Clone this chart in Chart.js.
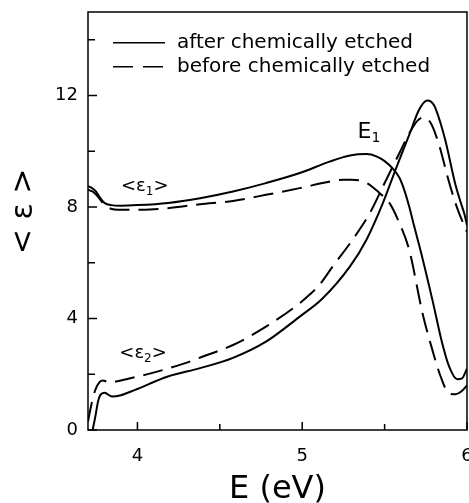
<!DOCTYPE html>
<html><head><meta charset="utf-8">
<script src="https://cdn.jsdelivr.net/npm/chart.js@4.4.1/dist/chart.umd.min.js"></script>
<style>html,body{margin:0;padding:0;background:#fff;overflow:hidden}canvas{display:block}</style>
</head><body>
<canvas id="c" width="469" height="503"></canvas>
<script>
// <eps1> after chemically etched (solid)
const eps1AfterE = [3.70,3.72,3.745,3.775,3.80,3.84,3.90,4.00,4.185,4.38,4.58,4.78,4.985,5.17,5.29,5.39,5.45,5.50,5.55,5.59,5.62,5.65,5.68,5.72,5.79,5.85,5.89,5.94,5.97,6.00];
const eps1AfterV = [8.75,8.70,8.58,8.32,8.15,8.07,8.05,8.07,8.15,8.32,8.56,8.86,9.22,9.64,9.85,9.90,9.82,9.65,9.38,9.05,8.6,8.0,7.3,6.4,4.67,3.1,2.3,1.82,1.85,2.2];
// <eps1> before chemically etched (dashed)
const eps1BeforeE = [3.70,3.73,3.76,3.80,3.83,3.90,4.00,4.10,4.185,4.38,4.58,4.78,4.985,5.17,5.25,5.30,5.39,5.47,5.53,5.59,5.65,5.73,5.79,5.84,5.89,5.93,5.965,6.00];
const eps1BeforeV = [8.62,8.55,8.38,8.08,7.96,7.90,7.90,7.92,7.96,8.10,8.22,8.44,8.68,8.92,8.98,8.98,8.87,8.50,8.14,7.42,6.45,4.19,2.87,1.92,1.32,1.28,1.38,1.6];
// <eps2> after chemically etched (solid)
const eps2AfterE = [3.728,3.745,3.76,3.775,3.80,3.82,3.845,3.90,3.985,4.185,4.38,4.58,4.78,4.985,5.12,5.29,5.39,5.49,5.57,5.65,5.71,5.76,5.80,5.84,5.87,5.93,5.96,5.985,6.00];
const eps2AfterV = [0.0,0.5,1.0,1.26,1.34,1.28,1.20,1.25,1.44,1.92,2.22,2.59,3.17,4.07,4.70,5.87,6.83,8.15,9.4,10.6,11.5,11.82,11.65,11.0,10.36,8.8,8.2,7.73,7.35];
// <eps2> before chemically etched (dashed)
const eps2BeforeE = [3.70,3.72,3.745,3.77,3.79,3.83,3.87,3.95,4.086,4.29,4.39,4.58,4.78,4.985,5.045,5.106,5.185,5.306,5.41,5.49,5.59,5.65,5.70,5.735,5.78,5.83,5.89,5.94,6.00];
const eps2BeforeV = [0.3,0.9,1.45,1.72,1.78,1.70,1.74,1.85,2.04,2.40,2.62,3.05,3.71,4.55,4.86,5.22,5.87,6.83,7.78,8.74,9.94,10.65,11.1,11.22,11.02,10.24,8.92,7.97,7.1];

const xTicks = [4, 4.5, 5, 5.5, 6];
const xLabeled = [4, 5, 6];
const yTicks = [0, 2, 4, 6, 8, 10, 12, 14];
const yLabeled = [0, 4, 8, 12];
const legendLabels = ['after chemically etched', 'before chemically etched'];
const xTitle = 'E (eV)';
const yTitle = '  < ε >';

const annotations = [
  {main: '<ε', sub: '1', tail: '>', e: 3.90, v: 8.57, size: 18, subSize: 12, drop: 4},
  {main: '<ε', sub: '2', tail: '>', e: 3.89, v: 2.57, size: 18, subSize: 12, drop: 4},
  {main: 'E', sub: '1', tail: '', e: 5.336, v: 10.49, size: 22, subSize: 14, drop: 4}
];

const FONT = "'DejaVu Sans', sans-serif";
Chart.defaults.font.family = FONT;
Chart.defaults.color = '#000';

const pts = (xs, ys) => xs.map((x, i) => ({x, y: ys[i]}));
const DASH = [20, 9];

function ds(label, xs, ys, dashed) {
  return {
    label, data: pts(xs, ys), borderColor: '#000', borderWidth: 2,
    borderDash: dashed ? DASH : [], pointRadius: 0, fill: false,
    cubicInterpolationMode: 'monotone'
  };
}

const frameTicks = {
  id: 'frameTicks',
  afterDatasetsDraw(chart) {
    const {ctx, chartArea: a, scales: {x, y}} = chart;
    ctx.save();
    ctx.strokeStyle = '#000';
    ctx.lineWidth = 1.5;
    ctx.setLineDash([]);
    ctx.strokeRect(a.left, a.top, a.right - a.left, a.bottom - a.top);
    ctx.beginPath();
    x.ticks.forEach(t => {
      const p = x.getPixelForValue(t.value);
      const len = xLabeled.includes(t.value) ? 8 : 6;
      ctx.moveTo(p, a.bottom); ctx.lineTo(p, a.bottom - len);
    });
    y.ticks.forEach(t => {
      const p = y.getPixelForValue(t.value);
      const len = yLabeled.includes(t.value) ? 9 : 7;
      ctx.moveTo(a.left, p); ctx.lineTo(a.left + len, p);
    });
    ctx.stroke();

    // legend
    ctx.font = '20px ' + FONT;
    ctx.fillStyle = '#000';
    ctx.textBaseline = 'alphabetic';
    ctx.textAlign = 'left';
    legendLabels.forEach((lab, i) => {
      const ly = a.top + 30.7 + i * 24;
      ctx.beginPath();
      ctx.lineWidth = 1.6;
      ctx.setLineDash(i === 0 ? [] : [20, 10]);
      ctx.moveTo(a.left + 25, ly); ctx.lineTo(a.left + 77, ly);
      ctx.stroke();
      ctx.setLineDash([]);
      ctx.fillText(lab, a.left + 89, ly + 5.3);
    });

    // annotations
    annotations.forEach(n => {
      const px = x.getPixelForValue(n.e), py = y.getPixelForValue(n.v);
      ctx.font = n.size + 'px ' + FONT;
      ctx.fillText(n.main, px, py);
      const w = ctx.measureText(n.main).width;
      ctx.font = n.subSize + 'px ' + FONT;
      ctx.fillText(n.sub, px + w, py + n.drop);
      const ws = ctx.measureText(n.sub).width;
      if (n.tail) {
        ctx.font = n.size + 'px ' + FONT;
        ctx.fillText(n.tail, px + w + ws, py);
      }
    });
    ctx.restore();
  }
};

new Chart(document.getElementById('c'), {
  type: 'line',
  data: {
    datasets: [
      ds('<ε1> ' + legendLabels[0], eps1AfterE, eps1AfterV, false),
      ds('<ε1> ' + legendLabels[1], eps1BeforeE, eps1BeforeV, true),
      ds('<ε2> ' + legendLabels[0], eps2AfterE, eps2AfterV, false),
      ds('<ε2> ' + legendLabels[1], eps2BeforeE, eps2BeforeV, true)
    ]
  },
  options: {
    responsive: false,
    devicePixelRatio: 1,
    animation: false,
    layout: {padding: {top: 12, right: 2, left: 0, bottom: 0}},
    plugins: {legend: {display: false}, tooltip: {enabled: false}},
    scales: {
      x: {
        type: 'linear', min: 3.7, max: 6.0,
        afterBuildTicks: s => { s.ticks = xTicks.map(v => ({value: v})); },
        afterFit: s => { s.height = 73; s.paddingLeft = 0; s.paddingRight = 0; },
        grid: {display: false, drawTicks: false},
        border: {display: false},
        ticks: {padding: 16, color: '#000', font: {size: 18}, maxRotation: 0, autoSkip: false,
                callback: v => xLabeled.includes(v) ? String(v) : ''},
        title: {display: true, text: xTitle, color: '#000', font: {size: 32, lineHeight: 0.8}, padding: {top: 0, bottom: 1}}
      },
      y: {
        type: 'linear', min: 0, max: 15,
        afterBuildTicks: s => { s.ticks = yTicks.map(v => ({value: v})); },
        afterFit: s => { s.width = 88; s.paddingTop = 0; s.paddingBottom = 0; },
        grid: {display: false, drawTicks: false},
        border: {display: false},
        ticks: {padding: 10, color: '#000', font: {size: 18}, autoSkip: false,
                callback: v => yLabeled.includes(v) ? String(v) : ''},
        title: {display: true, text: yTitle, color: '#000', font: {size: 30}, padding: {top: 6, bottom: 4}}
      }
    }
  },
  plugins: [frameTicks]
});
</script>
</body></html>
